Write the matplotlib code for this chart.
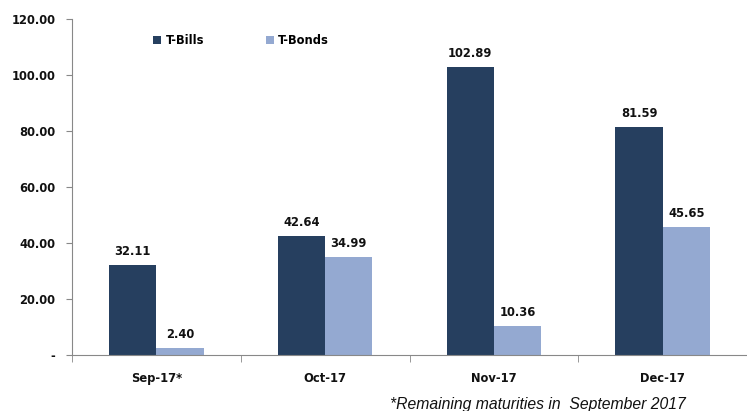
import matplotlib
matplotlib.use("Agg")
import matplotlib.pyplot as plt
import numpy as np

categories = ["Sep-17*", "Oct-17", "Nov-17", "Dec-17"]
t_bills = [32.11, 42.64, 102.89, 81.59]
t_bonds = [2.40, 34.99, 10.36, 45.65]
yticks = [0, 20, 40, 60, 80, 100, 120]
ytick_labels = ["-", "20.00", "40.00", "60.00", "80.00", "100.00", "120.00"]

c_bills = "#263F5F"
c_bonds = "#94A9D1"

fig = plt.figure(figsize=(7.47, 4.11), dpi=100)
ax = fig.add_axes([72/747, (411-355)/411, 675/747, (355-19)/411])

x = np.arange(len(categories))
w = 0.28
b1 = ax.bar(x - w/2, t_bills, w, color=c_bills, label="T-Bills")
b2 = ax.bar(x + w/2, t_bonds, w, color=c_bonds, label="T-Bonds")

for rects, vals in ((b1, t_bills), (b2, t_bonds)):
    for r, v in zip(rects, vals):
        ax.text(r.get_x() + r.get_width()/2, v + 2.5, f"{v:.2f}", ha="center", va="bottom",
                fontsize=8.3, fontweight="bold", color="#111111")

ax.set_ylim(0, 120)
ax.set_xlim(-0.5, 3.5 - 9/171)
ax.set_yticks(yticks)
ax.set_yticklabels(ytick_labels, fontsize=8.3, fontweight="bold", color="#111111")
ax.set_xticks(x)
ax.set_xticklabels(categories, fontsize=8.3, fontweight="bold", color="#111111")
ax.tick_params(axis="x", length=0, pad=12)
ax.set_xticks(np.arange(-0.5, 4, 1), minor=True)
ax.tick_params(axis="x", which="minor", length=5, color="#888888", direction="out")
ax.tick_params(axis="y", length=4, color="#888888", direction="out", pad=8)

for s in ["top", "right"]:
    ax.spines[s].set_visible(False)
ax.spines["left"].set_color("#888888")
ax.spines["bottom"].set_color("#888888")

leg = ax.legend(loc="upper left", bbox_to_anchor=(0.105, 0.985), ncol=2, frameon=False,
                fontsize=8.3, handlelength=0.7, handleheight=0.7, columnspacing=5.3,
                handletextpad=0.4)
for t in leg.get_texts():
    t.set_fontweight("bold")

fig.text(390/747, 1 - 404/411, "*Remaining maturities in  September 2017", fontsize=11.3,
         style="italic", family="Liberation Sans", va="center", ha="left", color="#111111")

fig.savefig("out.png", dpi=100)
